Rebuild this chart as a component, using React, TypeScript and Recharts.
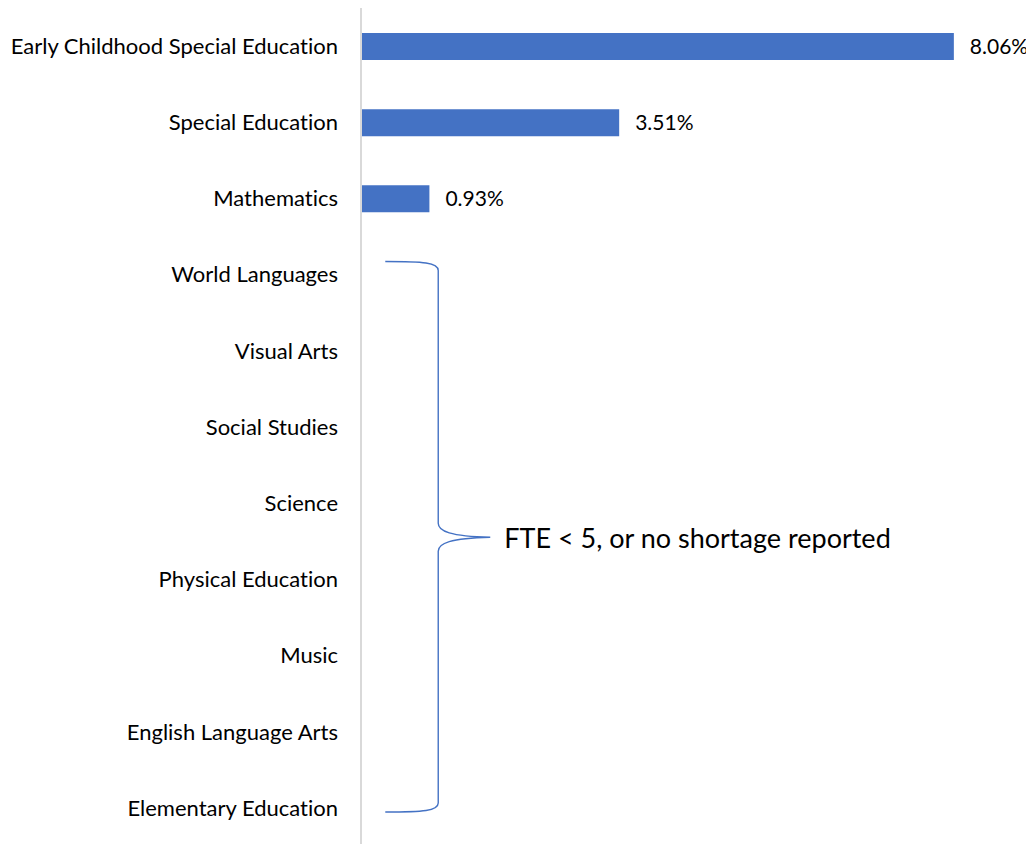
import React from 'react';
import { BarChart, Bar, XAxis, YAxis, LabelList, ReferenceArea } from 'recharts';

const categories = [
  'Early Childhood Special Education',
  'Special Education',
  'Mathematics',
  'World Languages',
  'Visual Arts',
  'Social Studies',
  'Science',
  'Physical Education',
  'Music',
  'English Language Arts',
  'Elementary Education',
];
const shortageRates: (number | null)[] = [8.06, 3.51, 0.93, null, null, null, null, null, null, null, null];
const braceStart = 'World Languages';
const braceEnd = 'Elementary Education';
const braceText = 'FTE < 5, or no shortage reported';

const data = categories.map((c, i) => ({ name: c, value: shortageRates[i] }));

const FONT = 'Lato, "Open Sans", sans-serif';
const BLUE = '#4472C4';

const BraceShape = (props: any) => {
  const { x, y, width, height } = props;
  const L = x;
  const V = x + width;
  const T = V + 52;
  const yt = y + 25;
  const yb = y + height - 34;
  const ym = (yt + yb) / 2 + 0.5;
  const d = [
    `M ${L} ${yt}`,
    `C ${L + 38} ${yt} ${V} ${yt + 1} ${V} ${yt + 9}`,
    `L ${V} ${ym - 14}`,
    `C ${V} ${ym - 6} ${V + 12} ${ym - 1} ${T} ${ym}`,
    `C ${V + 12} ${ym + 1} ${V} ${ym + 6} ${V} ${ym + 14}`,
    `L ${V} ${yb - 9}`,
    `C ${V} ${yb - 1} ${L + 38} ${yb} ${L} ${yb}`,
  ].join(' ');
  return (
    <g>
      <path d={d} fill="none" stroke={BLUE} strokeWidth={1.4} />
      <text x={T + 14} y={ym} dominantBaseline="central" fontSize={27} fontFamily={FONT} fill="#000">
        {braceText}
      </text>
    </g>
  );
};

export default function App() {
  return (
    <div style={{ width: 1026, height: 838, fontVariantLigatures: 'none' }}>
      <BarChart
        width={1026}
        height={838}
        data={data}
        layout="vertical"
        margin={{ top: 0, right: 11, bottom: 0, left: 0 }}
        style={{ overflow: 'visible' }}
      >
        <XAxis type="number" domain={[0, 9]} hide />
        <YAxis
          type="category"
          dataKey="name"
          width={353}
          axisLine={{ stroke: '#d9d9d9', strokeWidth: 2 }}
          tickLine={false}
          tickSize={0}
          tickMargin={23}
          interval={0}
          tick={{ fill: '#000', fontSize: 22, fontFamily: FONT }}
        />
        <ReferenceArea
          x1={0.33}
          x2={1.05}
          y1={braceStart}
          y2={braceEnd}
          ifOverflow="visible"
          shape={BraceShape}
        />
        <Bar dataKey="value" fill={BLUE} barSize={27} isAnimationActive={false}>
          <LabelList
            dataKey="value"
            position="right"
            offset={16}
            formatter={(v: any) => (v == null ? '' : `${Number(v).toFixed(2)}%`)}
            style={{ fill: '#000', fontSize: 21, fontFamily: FONT }}
          />
        </Bar>
      </BarChart>
    </div>
  );
}
